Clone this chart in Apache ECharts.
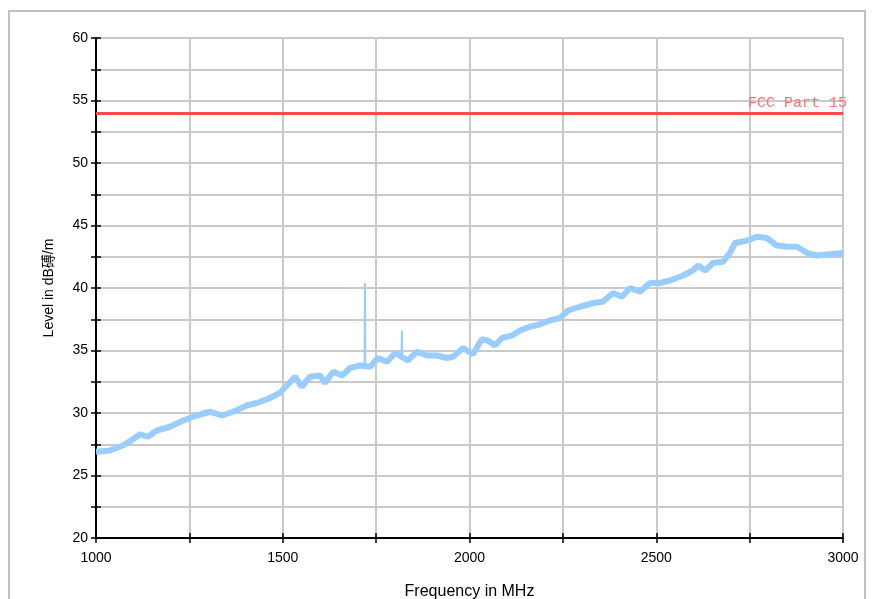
<!DOCTYPE html>
<html>
<head>
<meta charset="utf-8">
<title>Level vs Frequency</title>
<script src="https://cdn.jsdelivr.net/npm/echarts@6/dist/echarts.min.js"></script>
<style>
  html, body { margin: 0; padding: 0; background: #fff; }
  #charts { width: 873px; height: 599px; }
</style>
</head>
<body>
<div id="charts"></div>
<script>
var freqs = [1000,1037,1072,1099,1118,1139,1163,1198,1233,1270,1305,1337,1367,1404,1430,1458,1492,1511,1533,1551,
  1573,1600,1613,1635,1659,1680,1707,1734,1755,1779,1801,1835,1859,1886,1913,1940,1956,1983,2009,2033,
  2049,2068,2087,2114,2135,2162,2189,2215,2242,2264,2296,2331,2357,2384,2408,2430,2457,2483,2510,2537,
  2572,2598,2612,2631,2652,2679,2697,2711,2743,2770,2796,2823,2850,2877,2904,2930,2965,3000];
var levels = [26.9,27.0,27.4,27.9,28.3,28.1,28.6,28.9,29.4,29.8,30.1,29.8,30.1,30.6,30.8,31.1,31.6,32.2,32.9,32.1,
  32.9,33.0,32.4,33.3,33.0,33.6,33.8,33.7,34.4,34.1,34.8,34.2,34.9,34.6,34.6,34.4,34.5,35.2,34.7,35.9,
  35.8,35.4,36.0,36.2,36.6,36.9,37.1,37.4,37.6,38.2,38.5,38.8,38.9,39.6,39.3,40.0,39.7,40.4,40.4,40.6,
  41.0,41.4,41.8,41.4,42.0,42.1,42.8,43.6,43.8,44.1,44.0,43.4,43.3,43.3,42.8,42.6,42.7,42.8];
// 两个尖峰
var spike1Freqs = [1719, 1720, 1721];
var spike1Levels = [33.8, 40.4, 33.8];
var spike2Freqs = [1818, 1819, 1820];
var spike2Levels = [34.6, 36.6, 34.6];
// 限值线
var limitName = 'FCC Part 15';
var limitValue = 54;

function zip(xs, ys) {
  var out = [];
  for (var i = 0; i < xs.length; i++) out.push([xs[i], ys[i]]);
  return out;
}

var myChart = echarts.init(document.getElementById('charts'));

var sans = 'Liberation Sans, Arial, "Noto Sans CJK SC", sans-serif';
var axisFont = { fontFamily: sans, fontSize: 14, color: '#000' };

var option = {
  animation: false,
  graphic: [{
    type: 'rect',
    shape: { x: 9, y: 11, width: 856, height: 620 },
    style: { fill: null, stroke: '#c0c0c0', lineWidth: 2 },
    silent: true
  }],
  grid: { left: 96, right: 30, top: 38, bottom: 61, outerBoundsMode: 'none' },
  xAxis: [{
    type: 'value', min: 1000, max: 3000, interval: 250,
    name: 'Frequency in MHz', nameLocation: 'middle', nameGap: 46,
    nameTextStyle: { fontFamily: sans, fontSize: 16, color: '#000' },
    axisLine: { onZero: false, lineStyle: { color: '#000', width: 2 } },
    axisTick: { length: 5, lineStyle: { color: '#000', width: 1.5 } },
    axisLabel: Object.assign({ margin: 13, formatter: function (v) { return v % 500 === 0 ? v : ''; } }, axisFont),
    splitLine: { lineStyle: { color: '#cacaca', width: 2 } }
  }, {
    type: 'value', min: 1000, max: 3000, interval: 250, position: 'bottom',
    axisLine: { show: false },
    axisTick: { inside: true, length: 5, lineStyle: { color: '#000', width: 1.5 } },
    axisLabel: { show: false }, splitLine: { show: false }
  }],
  yAxis: [{
    type: 'value', min: 20, max: 60, interval: 2.5,
    name: 'Level in dB磗/m', nameLocation: 'middle', nameGap: 40,
    nameTextStyle: { fontFamily: sans, fontSize: 14, color: '#000' },
    axisLine: { onZero: false, lineStyle: { color: '#000', width: 2 } },
    axisTick: { length: 5, lineStyle: { color: '#000', width: 1.5 } },
    axisLabel: Object.assign({ margin: 8, formatter: function (v) { return v % 5 === 0 ? v : ''; } }, axisFont),
    splitLine: { lineStyle: { color: '#cacaca', width: 2 } }
  }, {
    type: 'value', min: 20, max: 60, interval: 2.5, position: 'left',
    axisLine: { show: false },
    axisTick: { inside: true, length: 5, lineStyle: { color: '#000', width: 1.5 } },
    axisLabel: { show: false }, splitLine: { show: false }
  }],
  series: [
    {
      name: 'Level', type: 'line', showSymbol: false, z: 3,
      data: zip(freqs, levels),
      lineStyle: { color: '#99ccff', width: 6 },
      markLine: {
        silent: true, symbol: 'none',
        lineStyle: { color: '#ff4a4a', width: 3, type: 'solid' },
        label: {
          position: 'insideEndTop', formatter: limitName, distance: [-4, 2],
          fontFamily: '"Liberation Mono", "DejaVu Sans Mono", monospace', fontSize: 15, color: '#ff7070'
        },
        data: [{ yAxis: limitValue }]
      }
    },
    {
      name: 'Spike1', type: 'line', showSymbol: false, z: 3,
      data: zip(spike1Freqs, spike1Levels),
      lineStyle: { color: '#99ccff', width: 2 }
    },
    {
      name: 'Spike2', type: 'line', showSymbol: false, z: 3,
      data: zip(spike2Freqs, spike2Levels),
      lineStyle: { color: '#99ccff', width: 2 }
    }
  ]
};

myChart.setOption(option);
</script>
</body>
</html>
